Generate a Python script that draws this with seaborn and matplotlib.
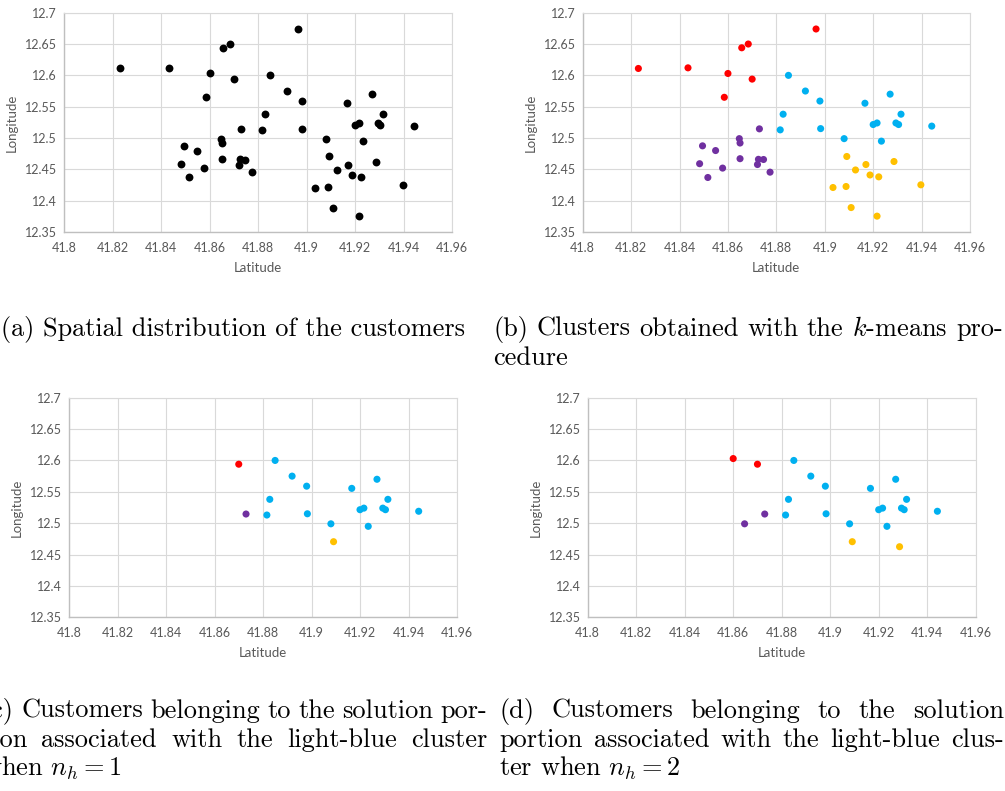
import matplotlib
matplotlib.use("Agg")
import matplotlib.pyplot as plt
from matplotlib.transforms import IdentityTransform
import pandas as pd
import seaborn as sns

# ---------------- data ----------------
latitude = [
    # red cluster
    41.823, 41.8435, 41.860, 41.8657, 41.8684, 41.8964, 41.870, 41.8585,
    # light-blue cluster
    41.885, 41.892, 41.898, 41.8828, 41.8816, 41.8983, 41.9166, 41.927,
    41.9315, 41.920, 41.9216, 41.9294, 41.9305, 41.9442, 41.908, 41.9234,
    # purple cluster
    41.873, 41.8647, 41.865, 41.8495, 41.8549, 41.8483, 41.8517, 41.8578,
    41.865, 41.8726, 41.8747, 41.8722, 41.8774,
    # yellow cluster
    41.9091, 41.917, 41.9127, 41.9187, 41.9223, 41.9286, 41.9034, 41.9088,
    41.9397, 41.9109, 41.9216,
]
longitude = [
    12.611, 12.612, 12.603, 12.644, 12.650, 12.674, 12.594, 12.565,
    12.600, 12.575, 12.559, 12.538, 12.513, 12.515, 12.5555, 12.570,
    12.538, 12.5215, 12.524, 12.524, 12.5215, 12.519, 12.499, 12.495,
    12.5146, 12.499, 12.492, 12.4875, 12.480, 12.459, 12.437, 12.452,
    12.467, 12.466, 12.4657, 12.4577, 12.4455,
    12.4705, 12.4577, 12.449, 12.441, 12.438, 12.4625, 12.421, 12.4226,
    12.4253, 12.389, 12.3753,
]
cluster = ["red"] * 8 + ["blue"] * 16 + ["purple"] * 13 + ["yellow"] * 11

# customers in the solution portion of the light-blue cluster
portion_nh1 = [6] + list(range(8, 24)) + [24] + [37]
portion_nh2 = [2, 6] + list(range(8, 24)) + [24, 25] + [37, 42]

x_ticks = [41.80, 41.82, 41.84, 41.86, 41.88, 41.90, 41.92, 41.94, 41.96]
x_tick_labels = ["41.8", "41.82", "41.84", "41.86", "41.88", "41.9", "41.92", "41.94", "41.96"]
y_ticks = [12.35, 12.40, 12.45, 12.50, 12.55, 12.60, 12.65, 12.70]
y_tick_labels = ["12.35", "12.4", "12.45", "12.5", "12.55", "12.6", "12.65", "12.7"]

palette = {"red": "#FF0000", "blue": "#00B0F0", "purple": "#7030A0", "yellow": "#FFC000"}

captions = {
    "a": ["(a) Spatial distribution of the customers"],
    "b": ["(b) Clusters obtained with the $k$-means pro-", "cedure"],
    "c": ["(c) Customers belonging to the solution por-",
          "tion associated with the light-blue cluster",
          "when $n_h = 1$"],
    "d": ["(d) Customers belonging to the solution",
          "portion associated with the light-blue clus-",
          "ter when $n_h = 2$"],
}

df = pd.DataFrame({"Latitude": latitude, "Longitude": longitude, "cluster": cluster})

# ---------------- style ----------------
sns.set_theme(style="white")
plt.rcParams["font.family"] = ["Lato", "DejaVu Sans"]
plt.rcParams["mathtext.fontset"] = "cm"

W, H = 1005, 791
fig = plt.figure(figsize=(W / 100, H / 100), dpi=100)
fig.patch.set_facecolor("white")

GRID = "#D9D9D9"
AXIS = "#BFBFBF"
TXT = "#595959"


def add_ax(l, t, r, b):
    return fig.add_axes([l / W, 1 - b / H, (r - l) / W, (b - t) / H])


def draw(ax, d, colored, s):
    if colored:
        sns.scatterplot(data=d, x="Latitude", y="Longitude", hue="cluster",
                        palette=palette, s=s, linewidth=0, ax=ax, legend=False, zorder=3)
    else:
        sns.scatterplot(data=d, x="Latitude", y="Longitude", color="black",
                        s=s, linewidth=0, ax=ax, legend=False, zorder=3)
    ax.set_xlim(41.80, 41.96)
    ax.set_ylim(12.35, 12.70)
    ax.set_xticks(x_ticks)
    ax.set_xticklabels(x_tick_labels)
    ax.set_yticks(y_ticks)
    ax.set_yticklabels(y_tick_labels)
    ax.grid(True, color=GRID, lw=0.8)
    ax.set_axisbelow(True)
    ax.tick_params(length=0, labelsize=9, labelcolor=TXT)
    ax.tick_params(axis="x", pad=7)
    ax.tick_params(axis="y", pad=5)
    ax.set_xlabel("Latitude", fontsize=9.5, color=TXT, labelpad=6)
    ax.set_ylabel("Longitude", fontsize=9.5, color=TXT, labelpad=5)
    for side in ["left", "bottom"]:
        ax.spines[side].set_color(AXIS)
        ax.spines[side].set_linewidth(1.0)
    for side in ["top", "right"]:
        ax.spines[side].set_color(GRID)
        ax.spines[side].set_linewidth(0.8)
    ax.set_facecolor("white")


ax_a = add_ax(64, 12.7, 452, 232)
ax_b = add_ax(582.7, 12.7, 970, 232)
ax_c = add_ax(69, 397.7, 457, 617.3)
ax_d = add_ax(587.7, 397.7, 975.7, 617.3)

draw(ax_a, df, False, 32)
draw(ax_b, df, True, 26)
draw(ax_c, df.iloc[portion_nh1], True, 26)
draw(ax_d, df.iloc[portion_nh2], True, 26)

# ---------------- captions ----------------
renderer = fig.canvas.get_renderer()
cap_font = dict(family=["cmr10", "DejaVu Serif"], color="black")
ident = IdentityTransform()


def measure(s, size):
    t = fig.text(0, 0, s, fontsize=size, transform=ident, **cap_font)
    w = t.get_window_extent(renderer).width
    t.remove()
    return w


fs = 18 * 466 / measure(captions["a"][0], 18)


def place_line(s, x0, x1, y, justify):
    if not justify:
        fig.text(x0, H - y, s, fontsize=fs, transform=ident,
                 ha="left", va="baseline", **cap_font)
        return
    words = s.split(" ")
    widths = [measure(w, fs) for w in words]
    gap = (x1 - x0 - sum(widths)) / (len(words) - 1)
    x = x0
    for w, wd in zip(words, widths):
        fig.text(x, H - y, w, fontsize=fs, transform=ident,
                 ha="left", va="baseline", **cap_font)
        x += wd + gap


place_line(captions["a"][0], 1, 467, 336, False)
place_line(captions["b"][0], 493, 1003, 336, True)
place_line(captions["b"][1], 493, 1003, 365, False)

# the reference crops the left edge of caption (c); it is reproduced here
place_line(captions["c"][0], -18, 487, 718, True)
place_line(captions["c"][1], -18, 487, 747, True)
place_line(captions["c"][2], -18, 487, 776, False)

place_line(captions["d"][0], 499, 1004, 718, True)
place_line(captions["d"][1], 499, 1004, 747, True)
place_line(captions["d"][2], 499, 1004, 776, False)

fig.savefig("out.png", dpi=100, facecolor="white")
